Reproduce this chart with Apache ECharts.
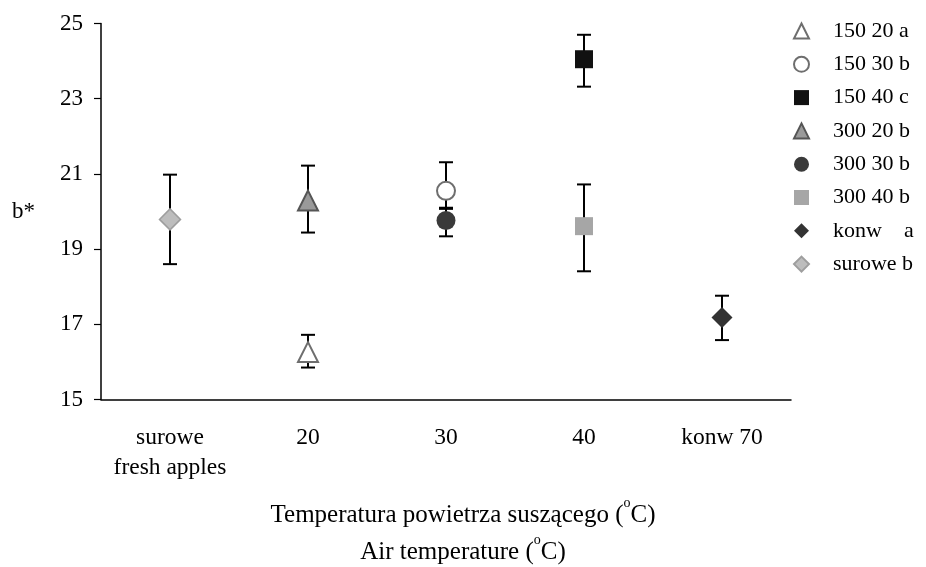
<!DOCTYPE html>
<html>
<head>
<meta charset="utf-8">
<script src="https://cdn.jsdelivr.net/npm/echarts@6/dist/echarts.min.js"></script>
<style>
  html, body { margin: 0; padding: 0; background: #fff; }
  #chart { width: 926px; height: 567px; }
</style>
</head>
<body>
<div id="chart"></div>
<script>
// kategorie osi X
const categories = ['surowe\nfresh apples', '20', '30', '40', 'konw 70']
const yTicks = [15, 17, 19, 21, 23, 25]

// serie: nazwa, kategoria, srednia, dolny i gorny koniec slupka bledu
const seriesNames = ['150 20 a', '150 30 b', '150 40 c', '300 20 b', '300 30 b', '300 40 b', 'konw    a', 'surowe b']
const seriesCategory = ['20', '30', '40', '20', '30', '40', 'konw 70', 'surowe\nfresh apples']
const seriesMean = [16.26, 20.55, 24.05, 20.29, 19.76, 19.61, 17.18, 19.79]
const errLow = [15.85, 20.07, 23.32, 19.44, 19.34, 18.41, 16.58, 18.60]
const errHigh = [16.72, 21.31, 24.70, 21.22, 20.10, 20.72, 17.76, 20.98]

// wyglad znacznikow
const markerStyle = [
  { symbol: 'triangle', size: 20, fill: '#fff', border: '#6e6e6e', bw: 2 },
  { symbol: 'circle', size: 18, fill: '#fff', border: '#6e6e6e', bw: 2 },
  { symbol: 'rect', size: 18, fill: '#111', border: '#111', bw: 0 },
  { symbol: 'triangle', size: 20, fill: '#9a9a9a', border: '#555', bw: 2 },
  { symbol: 'circle', size: 19, fill: '#3a3a3a', border: '#3a3a3a', bw: 0 },
  { symbol: 'rect', size: 18, fill: '#a6a6a6', border: '#a6a6a6', bw: 0 },
  { symbol: 'diamond', size: 21, fill: '#333', border: '#333', bw: 0 },
  { symbol: 'diamond', size: 21, fill: '#bdbdbd', border: '#9e9e9e', bw: 1.5 }
]

const font = 'Liberation Serif'

const errData = seriesNames.map((n, i) => [seriesCategory[i], errLow[i], errHigh[i]])

const series = seriesNames.map((name, i) => ({
  name: name,
  type: 'scatter',
  z: 3,
  symbol: markerStyle[i].symbol,
  symbolSize: markerStyle[i].size,
  itemStyle: {
    color: markerStyle[i].fill,
    borderColor: markerStyle[i].border,
    borderWidth: markerStyle[i].bw,
    opacity: 1
  },
  emphasis: { disabled: true },
  data: [[seriesCategory[i], seriesMean[i]]]
}))

series.unshift({
  type: 'custom',
  name: 'err',
  z: 1,
  silent: true,
  data: errData,
  renderItem: function (params, api) {
    const top = api.coord([api.value(0), api.value(2)])
    const bot = api.coord([api.value(0), api.value(1)])
    const x = top[0]
    const hw = 7
    const st = { stroke: '#000', lineWidth: 2 }
    return {
      type: 'group',
      children: [
        { type: 'line', shape: { x1: x, y1: top[1], x2: x, y2: bot[1] }, style: st },
        { type: 'line', shape: { x1: x - hw, y1: top[1], x2: x + hw, y2: top[1] }, style: st },
        { type: 'line', shape: { x1: x - hw, y1: bot[1], x2: x + hw, y2: bot[1] }, style: st }
      ]
    }
  }
})

const myChart = echarts.init(document.getElementById('chart'))
myChart.setOption({
  animation: false,
  textStyle: { fontFamily: font, color: '#000' },
  grid: { left: 101, right: 135, top: 23.5, bottom: 167.5, outerBoundsMode: 'none' },
  legend: {
    orient: 'vertical',
    left: 788,
    top: 15,
    itemWidth: 15,
    itemHeight: 15,
    itemGap: 11.3,
    data: seriesNames,
    textStyle: { fontFamily: font, fontSize: 22, color: '#000', lineHeight: 22, padding: [0, 0, 0, 19] }
  },
  xAxis: {
    type: 'category',
    data: categories,
    boundaryGap: true,
    axisLine: { lineStyle: { color: '#000', width: 1.5 } },
    axisTick: { length: 6, lineStyle: { color: '#000', width: 1.2 } },
    axisLabel: {
      fontFamily: font, fontSize: 23.5, color: '#000',
      margin: 23, lineHeight: 30, interval: 0
    },
    name: '{t|Temperatura powietrza suszącego (}{sup|o}{t|C)}\n{t|Air temperature (}{sup|o}{t|C)}',
    nameLocation: 'middle',
    nameGap: 97,
    nameTextStyle: {
      padding: [0, 0, 0, 34],
      rich: {
        t: { fontFamily: font, fontSize: 25, color: '#000', lineHeight: 37 },
        sup: { fontFamily: font, fontSize: 14, color: '#000', lineHeight: 37, verticalAlign: 'top', padding: [0, 0, 6, 0] }
      }
    }
  },
  yAxis: {
    type: 'value',
    min: yTicks[0],
    max: yTicks[yTicks.length - 1],
    interval: 2,
    splitLine: { show: false },
    axisLine: { show: true, lineStyle: { color: '#000', width: 1.5 } },
    axisTick: { show: true, length: 7, lineStyle: { color: '#000', width: 1.2 } },
    axisLabel: { fontFamily: font, fontSize: 23, color: '#000', margin: 18 },
    name: 'b*',
    nameLocation: 'middle',
    nameRotate: 0,
    nameGap: 66,
    nameTextStyle: { fontFamily: font, fontSize: 23, color: '#000' }
  },
  series: series
})
</script>
</body>
</html>
